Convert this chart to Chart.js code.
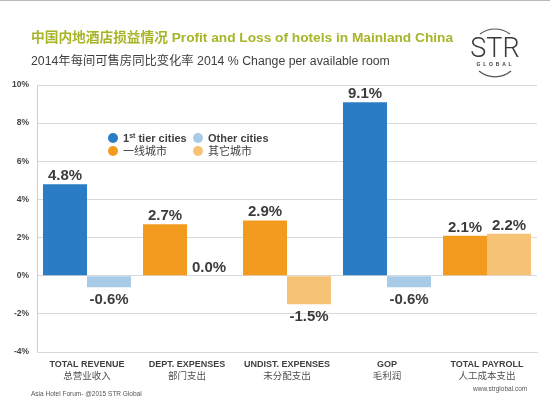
<!DOCTYPE html>
<html>
<head>
<meta charset="utf-8">
<script src="https://cdn.jsdelivr.net/npm/chart.js@4.4.1/dist/chart.umd.min.js"></script>
<style>
  html, body { margin: 0; padding: 0; background: #ffffff; }
  #wrap { position: relative; width: 550px; height: 411px; overflow: hidden; background: #fff; }
  #topline { position: absolute; left: 0; top: 0; width: 550px; height: 1px; background: #b8b8b8; }
  #cv { position: absolute; left: 0; top: 0; }
  .t { position: absolute; white-space: nowrap; font-family: "Liberation Sans", "Noto Sans CJK SC", sans-serif; }
  #title { left: 31px; top: 30px; font-size: 13.7px; line-height: 16px; font-weight: bold; color: #a8b528; }
  #sub { left: 31px; top: 53px; font-size: 12.3px; line-height: 16px; color: #404040; }
  .lg { position: absolute; font-family: "Liberation Sans", "Noto Sans CJK SC", sans-serif; font-size: 11px; line-height: 13px; color: #404040; white-space: nowrap; }
  .dot { position: absolute; width: 10px; height: 10px; border-radius: 50%; }
  .foot { position: absolute; font-family: "Liberation Sans", sans-serif; font-size: 6.5px; color: #555; white-space: nowrap; }
</style>
</head>
<body>
<div id="wrap">
  <div id="topline"></div>
  <canvas id="cv" width="550" height="411"></canvas>
  <div class="t" id="title">中国内地酒店损益情况 Profit and Loss of hotels in Mainland China</div>
  <div class="t" id="sub">2014年每间可售房同比变化率 2014 % Change per available room</div>

  <svg style="position:absolute;left:465px;top:26px" width="64" height="56" viewBox="0 0 64 56">
    <path d="M 15 8 A 25 25 0 0 1 45 8" fill="none" stroke="#555" stroke-width="1.2"/>
    <path d="M 14 45 A 25 25 0 0 0 46 45" fill="none" stroke="#555" stroke-width="1.2"/>
    <text x="30" y="31" text-anchor="middle" font-family="Roboto" font-weight="300" font-size="27" fill="#3a3a3a">STR</text>
    <text x="30.5" y="39.5" text-anchor="middle" font-family="Liberation Sans" font-weight="bold" font-size="5" letter-spacing="2.8" fill="#3a3a3a">GLOBAL</text>
  </svg>

  <div id="legend"></div>

  <div class="foot" style="left:31px;top:390px;">Asia Hotel Forum- @2015 STR Global</div>
  <div class="foot" style="left:473px;top:385px;">www.strglobal.com</div>
</div>
<script>
// ---- data ----
const categoriesEn = ["TOTAL REVENUE", "DEPT. EXPENSES", "UNDIST. EXPENSES", "GOP", "TOTAL PAYROLL"];
const categoriesZh = ["总营业收入", "部门支出", "未分配支出", "毛利润", "人工成本支出"];
const firstTier = [4.8, 2.7, 2.9, 9.1, 2.1];
const otherCities = [-0.6, 0.0, -1.5, -0.6, 2.2];
const yTicks = [-4, -2, 0, 2, 4, 6, 8, 10];

// ---- styles ----
const BLUE = "#2a7dc5", LBLUE = "#a8cbe8", ORANGE = "#f39b1e", LORANGE = "#f6c376";
const firstColors = [BLUE, ORANGE, ORANGE, BLUE, ORANGE];
const otherColors = [LBLUE, LORANGE, LORANGE, LBLUE, LORANGE];

// legend (HTML)
const legendItems = [
  { color: BLUE, html: '<b>1<sup style="font-size:7px;vertical-align:4px;line-height:0">st</sup> tier cities</b>', x: 108, y: 133 },
  { color: LBLUE, html: '<b>Other cities</b>', x: 193, y: 133 },
  { color: ORANGE, html: '一线城市', x: 108, y: 146 },
  { color: LORANGE, html: '其它城市', x: 193, y: 146 }
];
const lg = document.getElementById('legend');
legendItems.forEach(it => {
  const d = document.createElement('div');
  d.className = 'dot';
  d.style.left = it.x + 'px'; d.style.top = it.y + 'px'; d.style.background = it.color;
  lg.appendChild(d);
  const s = document.createElement('div');
  s.className = 'lg';
  s.style.left = (it.x + 15) + 'px'; s.style.top = (it.y - 1.5) + 'px';
  s.innerHTML = it.html;
  lg.appendChild(s);
});

const valueLabels = {
  id: 'valueLabels',
  afterDatasetsDraw(chart) {
    const ctx = chart.ctx;
    ctx.save();
    ctx.font = 'bold 15px "Liberation Sans", Arial, sans-serif';
    ctx.fillStyle = '#3c3c3c';
    ctx.textAlign = 'center';
    ctx.textBaseline = 'alphabetic';
    chart.data.datasets.forEach((ds, di) => {
      const meta = chart.getDatasetMeta(di);
      meta.data.forEach((bar, i) => {
        const v = ds.data[i];
        const txt = v.toFixed(1) + '%';
        const y = v >= 0 ? bar.y - 4 : bar.y + 17;
        ctx.fillText(txt, bar.x, y);
      });
    });
    ctx.restore();
  }
};

new Chart(document.getElementById('cv'), {
  type: 'bar',
  data: {
    labels: categoriesEn,
    datasets: [
      { label: '1st tier cities / 一线城市', data: firstTier, backgroundColor: firstColors, xAxisID: 'x', yAxisID: 'y' },
      { label: 'Other cities / 其它城市', data: otherCities, backgroundColor: otherColors, xAxisID: 'x', yAxisID: 'y' }
    ]
  },
  options: {
    responsive: false,
    animation: false,
    devicePixelRatio: 1,
    layout: { padding: { top: 85, right: 13, bottom: 0, left: 0 } },
    plugins: { legend: { display: false }, tooltip: { enabled: false } },
    datasets: { bar: { categoryPercentage: 0.88, barPercentage: 1.0 } },
    scales: {
      y: {
        min: -4, max: 10,
        afterBuildTicks: (s) => { s.ticks = yTicks.map(v => ({ value: v })); },
        afterFit: (s) => { s.width = 37; },
        ticks: {
          padding: 8,
          color: '#444',
          font: { family: '"Liberation Sans", Arial, sans-serif', size: 8.5, weight: 'bold' },
          callback: (v) => v + '%'
        },
        grid: { color: '#d9d9d9', lineWidth: 1, drawTicks: false },
        border: { display: true, color: '#cfcfcf' }
      },
      x: {
        position: 'bottom',
        weight: 0,
        afterFit: (s) => { s.height = 17; },
        grid: { display: false, drawTicks: false },
        border: { display: true, color: '#d9d9d9' },
        ticks: {
          padding: 7,
          maxRotation: 0, autoSkip: false,
          color: '#404040',
          font: { family: '"Liberation Sans", Arial, sans-serif', size: 9, weight: 'bold' }
        }
      },
      x2: {
        type: 'category',
        position: 'bottom',
        weight: 1,
        labels: categoriesZh,
        offset: true,
        afterFit: (s) => { s.height = 42; },
        grid: { display: false, drawTicks: false },
        border: { display: false },
        ticks: {
          padding: 1,
          maxRotation: 0, autoSkip: false,
          color: '#505050',
          font: { family: '"Noto Sans CJK SC", sans-serif', size: 9.5 }
        }
      }
    }
  },
  plugins: [valueLabels]
});
</script>
</body>
</html>
